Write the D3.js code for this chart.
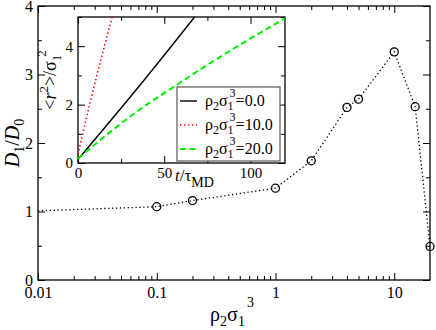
<!DOCTYPE html>
<html>
<head>
<meta charset="utf-8">
<script src="https://cdn.jsdelivr.net/npm/d3@7"></script>
<style>
body { margin: 0; background: #fff; }
svg { display: block; }
svg text { font-family: "Liberation Serif", "Times New Roman", Times, "DejaVu Serif", serif !important; fill: #000; }
</style>
</head>
<body>
<div class="chart"></div>
<script>

// main plot: D1/D0 vs rho2*sigma1^3
const densities = [0.01, 0.1, 0.2, 1, 2, 4, 5, 10, 15, 20];
const ratios = [1.01, 1.07, 1.16, 1.34, 1.74, 2.52, 2.64, 3.33, 2.53, 0.49];
const xMajor = [0.01, 0.1, 1, 10];
const xLabels = ['0.01', '0.1', '1', '10'];
const yMajor = [0, 1, 2, 3, 4];

// inset: mean square displacement vs time
const blackT = [0, 36, 67.6];
const blackR = [0.12, 2.67, 5];
const redT = [0, 6.9, 19.8];
const redR = [0.3, 2.04, 5];
const greenT = [0, 36, 54, 82, 120];
const greenR = [0.15, 1.84, 2.55, 3.62, 4.95];
const insetXTicks = [0, 50, 100];
const insetYTicks = [0, 2, 4];
const legendValues = ['0.0', '10.0', '20.0'];

const width = 436;
const height = 330;

const svg = d3.select('.chart').append('svg')
	.attr('width', width)
	.attr('height', height);

const x = d3.scaleLog().domain([0.01, 20]).range([38, 430]);
const y = d3.scaleLinear().domain([0, 4]).range([280, 6]);

let xMinor = [];
[0.01, 0.1, 1].forEach(function(dec) {
	for (let k = 2; k <= 9; k++) xMinor.push(dec * k);
});
const yMinor = [0.5, 1.5, 2.5, 3.5];

function drawAxes(g, xs, ys, xMaj, xMin, yMaj, yMin, xFmt, yFmt, fontSize, big, small, xPad) {
	const x0 = xs.range()[0], x1 = xs.range()[1];
	const y0 = ys.range()[0], y1 = ys.range()[1];

	g.append('g').attr('transform', `translate(0,${y0})`)
		.call(d3.axisBottom(xs).tickValues(xMaj).tickSize(-big).tickPadding(xPad).tickFormat(xFmt));
	g.append('g').attr('transform', `translate(0,${y0})`)
		.call(d3.axisBottom(xs).tickValues(xMin).tickSize(-small).tickFormat(''));
	g.append('g').attr('transform', `translate(0,${y1})`)
		.call(d3.axisTop(xs).tickValues(xMaj).tickSize(-big).tickFormat(''));
	g.append('g').attr('transform', `translate(0,${y1})`)
		.call(d3.axisTop(xs).tickValues(xMin).tickSize(-small).tickFormat(''));

	g.append('g').attr('transform', `translate(${x0},0)`)
		.call(d3.axisLeft(ys).tickValues(yMaj).tickSize(-big).tickPadding(5).tickFormat(yFmt));
	g.append('g').attr('transform', `translate(${x0},0)`)
		.call(d3.axisLeft(ys).tickValues(yMin).tickSize(-small).tickFormat(''));
	g.append('g').attr('transform', `translate(${x1},0)`)
		.call(d3.axisRight(ys).tickValues(yMaj).tickSize(-big).tickFormat(''));
	g.append('g').attr('transform', `translate(${x1},0)`)
		.call(d3.axisRight(ys).tickValues(yMin).tickSize(-small).tickFormat(''));

	g.selectAll('.domain').remove();
	g.selectAll('g').attr('font-family', null);
	g.selectAll('.tick line').attr('stroke', '#000').attr('stroke-width', 1);
	g.selectAll('.tick text')
		.style('font-size', fontSize + 'px')
		.attr('fill', '#000');

	g.append('rect')
		.attr('x', x0).attr('y', y1)
		.attr('width', x1 - x0).attr('height', y0 - y1)
		.attr('fill', 'none').attr('stroke', '#000').attr('stroke-width', 1.3);
}

// main axes
const mainG = svg.append('g');
drawAxes(mainG, x, y, xMajor, xMinor, yMajor, yMinor,
	function(d, i) { return xLabels[i]; }, d3.format('d'), 16, 7, 4, 7);

// main data line
const mainLine = d3.line()
	.x(function(d, i) { return x(densities[i]); })
	.y(function(d) { return y(d); });

svg.append('path')
	.datum(ratios)
	.attr('d', mainLine)
	.attr('fill', 'none')
	.attr('stroke', '#000')
	.attr('stroke-width', 1.3)
	.attr('stroke-dasharray', '1.3,2.6');

svg.selectAll('.marker')
	.data(ratios.slice(1))
	.enter()
	.append('circle')
	.attr('cx', function(d, i) { return x(densities[i + 1]); })
	.attr('cy', function(d) { return y(d); })
	.attr('r', 4)
	.attr('fill', 'none')
	.attr('stroke', '#000')
	.attr('stroke-width', 1.3)
	.attr('class', 'marker');

// main axis titles
const yTitle = svg.append('text')
	.attr('transform', 'translate(19,143) rotate(-90)')
	.attr('text-anchor', 'middle')
	.style('font-size', '20px');
yTitle.append('tspan').text('D').style('font-style', 'italic');
yTitle.append('tspan').text('1').attr('dy', 5).style('font-size', '14px');
yTitle.append('tspan').text('/').attr('dy', -5);
yTitle.append('tspan').text('D').style('font-style', 'italic');
yTitle.append('tspan').text('0').attr('dy', 5).style('font-size', '14px');

const xTitle = svg.append('text')
	.attr('x', 232)
	.attr('y', 321)
	.attr('text-anchor', 'middle')
	.style('font-size', '20px');
xTitle.append('tspan').text('ρ');
xTitle.append('tspan').text('2').attr('dy', 5).style('font-size', '14px');
xTitle.append('tspan').text('σ').attr('dy', -5);
xTitle.append('tspan').text('1').attr('dy', 5).style('font-size', '14px');
xTitle.append('tspan').text('3').attr('dx', 2).attr('dy', -19).style('font-size', '14px');

// inset
const xi = d3.scaleLinear().domain([0, 120]).range([78, 285]);
const yi = d3.scaleLinear().domain([0, 5]).range([163, 17]);

svg.append('rect')
	.attr('x', 78).attr('y', 17)
	.attr('width', 207).attr('height', 146)
	.attr('fill', '#fff');

const insetG = svg.append('g');
drawAxes(insetG, xi, yi, insetXTicks, [25, 75], insetYTicks, [1, 3, 5],
	d3.format('d'), d3.format('d'), 15, 7, 4, 4);

const insetCurves = [
	{ t: blackT, r: blackR, color: '#000', dash: null, w: 1.4 },
	{ t: redT, r: redR, color: '#ff0000', dash: '1.4,2.6', w: 1.6 },
	{ t: greenT, r: greenR, color: '#00ee00', dash: '6,3.5', w: 2 }
];

insetCurves.forEach(function(c) {
	const line = d3.line()
		.curve(d3.curveMonotoneX)
		.x(function(d, i) { return xi(c.t[i]); })
		.y(function(d) { return yi(d); });
	svg.append('path')
		.datum(c.r)
		.attr('d', line)
		.attr('fill', 'none')
		.attr('stroke', c.color)
		.attr('stroke-width', c.w)
		.attr('stroke-dasharray', c.dash);
});

// inset axis titles
const iyTitle = svg.append('text')
	.attr('transform', 'translate(56,80) rotate(-90)')
	.attr('text-anchor', 'middle')
	.style('font-size', '18px');
iyTitle.append('tspan').text('<');
iyTitle.append('tspan').text('r').style('font-style', 'italic');
iyTitle.append('tspan').text('2').attr('dy', -8).style('font-size', '13px');
iyTitle.append('tspan').text('>/σ').attr('dy', 8);
iyTitle.append('tspan').text('1').attr('dy', 5).style('font-size', '13px');
iyTitle.append('tspan').text('2').attr('dx', -2).attr('dy', -15).style('font-size', '13px');

const ixTitle = svg.append('text')
	.attr('x', 175)
	.attr('y', 181)
	.style('font-size', '17px');
ixTitle.append('tspan').text('t').style('font-style', 'italic');
ixTitle.append('tspan').text('/τ');
ixTitle.append('tspan').text('MD').attr('dy', 6).style('font-size', '14px');

// legend
const legend = svg.append('g');
legend.append('rect')
	.attr('x', 177).attr('y', 87)
	.attr('width', 103).attr('height', 74)
	.attr('fill', '#fff')
	.attr('stroke', '#666')
	.attr('stroke-width', 1.3);

legendValues.forEach(function(v, i) {
	const c = insetCurves[i];
	const ly = 101 + i * 24;
	legend.append('line')
		.attr('x1', 180).attr('x2', 197)
		.attr('y1', ly).attr('y2', ly)
		.attr('stroke', c.color)
		.attr('stroke-width', c.w)
		.attr('stroke-dasharray', c.dash);
	const t = legend.append('text')
		.attr('x', 205)
		.attr('y', ly + 5)
		.style('font-size', '16px');
	t.append('tspan').text('ρ');
	t.append('tspan').text('2').attr('dy', 4).style('font-size', '12px');
	t.append('tspan').text('σ').attr('dy', -4);
	t.append('tspan').text('1').attr('dy', 4).style('font-size', '12px');
	t.append('tspan').text('3').attr('dx', -4).attr('dy', -13).style('font-size', '12px');
	t.append('tspan').text('=' + v).attr('dy', 9);
});

</script>
</body>
</html>
